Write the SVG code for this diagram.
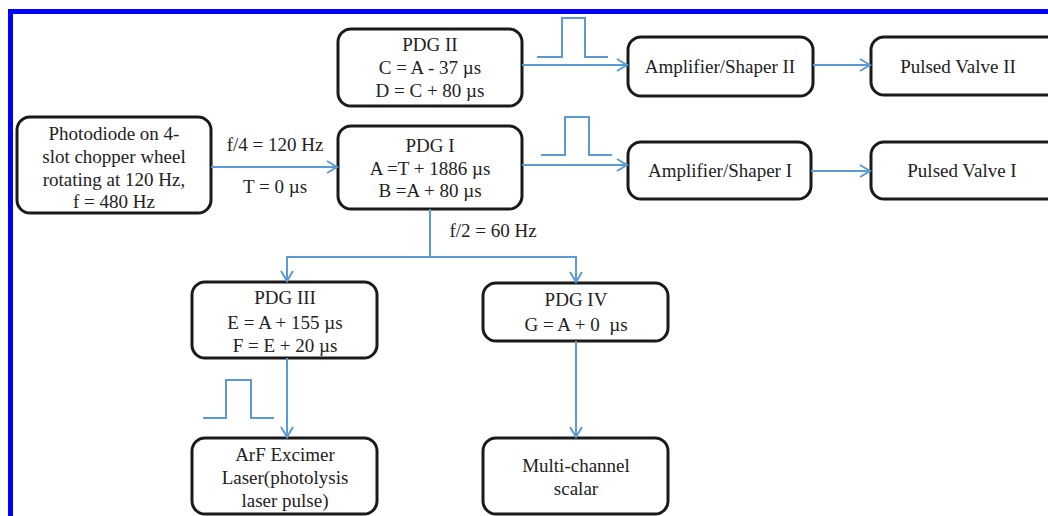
<svg xmlns="http://www.w3.org/2000/svg" width="1048" height="516" viewBox="0 0 1048 516">
<defs>
<marker id="arr" markerWidth="14" markerHeight="14" refX="11" refY="7" orient="auto" markerUnits="userSpaceOnUse">
<path d="M1,1 L11,7 L1,13" fill="none" stroke="#5B9BD5" stroke-width="2"/>
</marker>
</defs>
<style>
.box{fill:#fff;stroke:#1a1a1a;stroke-width:3}
.t{font-family:"Liberation Serif","Times New Roman",serif;font-size:19px;fill:#222;text-anchor:middle}
.c{fill:none;stroke:#5B9BD5;stroke-width:2}
.p{fill:none;stroke:#5B9BD5;stroke-width:2}
</style>
<rect x="0" y="0" width="1048" height="516" fill="#fff"/>
<path d="M10.5,530 V11.5 H1060" fill="none" stroke="#0000ff" stroke-width="5"/>

<g id="photodiode">
<rect class="box" x="17" y="117" width="194" height="96" rx="13"/>
<text class="t" x="114" y="140">Photodiode on 4-</text>
<text class="t" x="114" y="163">slot chopper wheel</text>
<text class="t" x="114" y="186">rotating at 120 Hz,</text>
<text class="t" x="114" y="208">f = 480 Hz</text>
</g>
<g id="pdg2">
<rect class="box" x="338" y="29" width="184" height="77" rx="13"/>
<text class="t" x="430" y="51">PDG II</text>
<text class="t" x="430" y="74">C = A - 37 µs</text>
<text class="t" x="430" y="97">D = C + 80 µs</text>
</g>
<g id="pdg1">
<rect class="box" x="338" y="126" width="184" height="83" rx="13"/>
<text class="t" x="430" y="152">PDG I</text>
<text class="t" x="430" y="175">A =T + 1886 µs</text>
<text class="t" x="430" y="197">B =A + 80 µs</text>
</g>
<g id="amp2">
<rect class="box" x="628" y="37" width="185" height="59" rx="13"/>
<text class="t" x="720" y="73">Amplifier/Shaper II</text>
</g>
<g id="valve2">
<rect class="box" x="871" y="37" width="200" height="58" rx="13"/>
<text class="t" x="958" y="73">Pulsed Valve II</text>
</g>
<g id="amp1">
<rect class="box" x="628" y="142" width="183" height="57" rx="13"/>
<text class="t" x="720" y="177">Amplifier/Shaper I</text>
</g>
<g id="valve1">
<rect class="box" x="871" y="142" width="200" height="57" rx="13"/>
<text class="t" x="962" y="177">Pulsed Valve I</text>
</g>
<g id="pdg3">
<rect class="box" x="192" y="282" width="185" height="76" rx="13"/>
<text class="t" x="285" y="304">PDG III</text>
<text class="t" x="285" y="329">E = A + 155 µs</text>
<text class="t" x="285" y="352">F = E + 20 µs</text>
</g>
<g id="pdg4">
<rect class="box" x="483" y="283" width="185" height="58" rx="13"/>
<text class="t" x="576" y="306">PDG IV</text>
<text class="t" x="576" y="331">G = A + 0&#160; µs</text>
</g>
<g id="arf">
<rect class="box" x="192" y="438" width="185" height="76" rx="13"/>
<text class="t" x="285" y="461">ArF Excimer</text>
<text class="t" x="285" y="484">Laser(photolysis</text>
<text class="t" x="285" y="507">laser pulse)</text>
</g>
<g id="mcs">
<rect class="box" x="483" y="438" width="185" height="76" rx="13"/>
<text class="t" x="576" y="472">Multi-channel</text>
<text class="t" x="576" y="495">scalar</text>
</g>

<g id="connectors">
<line class="c" x1="211" y1="167" x2="337" y2="167" marker-end="url(#arr)"/>
<line class="c" x1="522" y1="65" x2="627" y2="65" marker-end="url(#arr)"/>
<line class="c" x1="813" y1="65" x2="870" y2="65" marker-end="url(#arr)"/>
<line class="c" x1="522" y1="165" x2="627" y2="165" marker-end="url(#arr)"/>
<line class="c" x1="811" y1="171" x2="870" y2="171" marker-end="url(#arr)"/>
<path class="c" d="M430,209 V257"/>
<path class="c" d="M287,257 H577"/>
<line class="c" x1="287" y1="256" x2="287" y2="281" marker-end="url(#arr)"/>
<line class="c" x1="576" y1="256" x2="576" y2="282" marker-end="url(#arr)"/>
<line class="c" x1="287" y1="358" x2="287" y2="437" marker-end="url(#arr)"/>
<line class="c" x1="576" y1="341" x2="576" y2="437" marker-end="url(#arr)"/>
<path class="p" d="M537,57 H562 V18 H585 V57 H608"/>
<path class="p" d="M541,155 H565 V117 H589 V155 H612"/>
<path class="p" d="M203,418 H226 V380 H251 V418 H274"/>
<text class="t" x="275" y="151">f/4 = 120 Hz</text>
<text class="t" x="275" y="193">T = 0 µs</text>
<text class="t" x="493" y="237">f/2 = 60 Hz</text>
</g>
</svg>
